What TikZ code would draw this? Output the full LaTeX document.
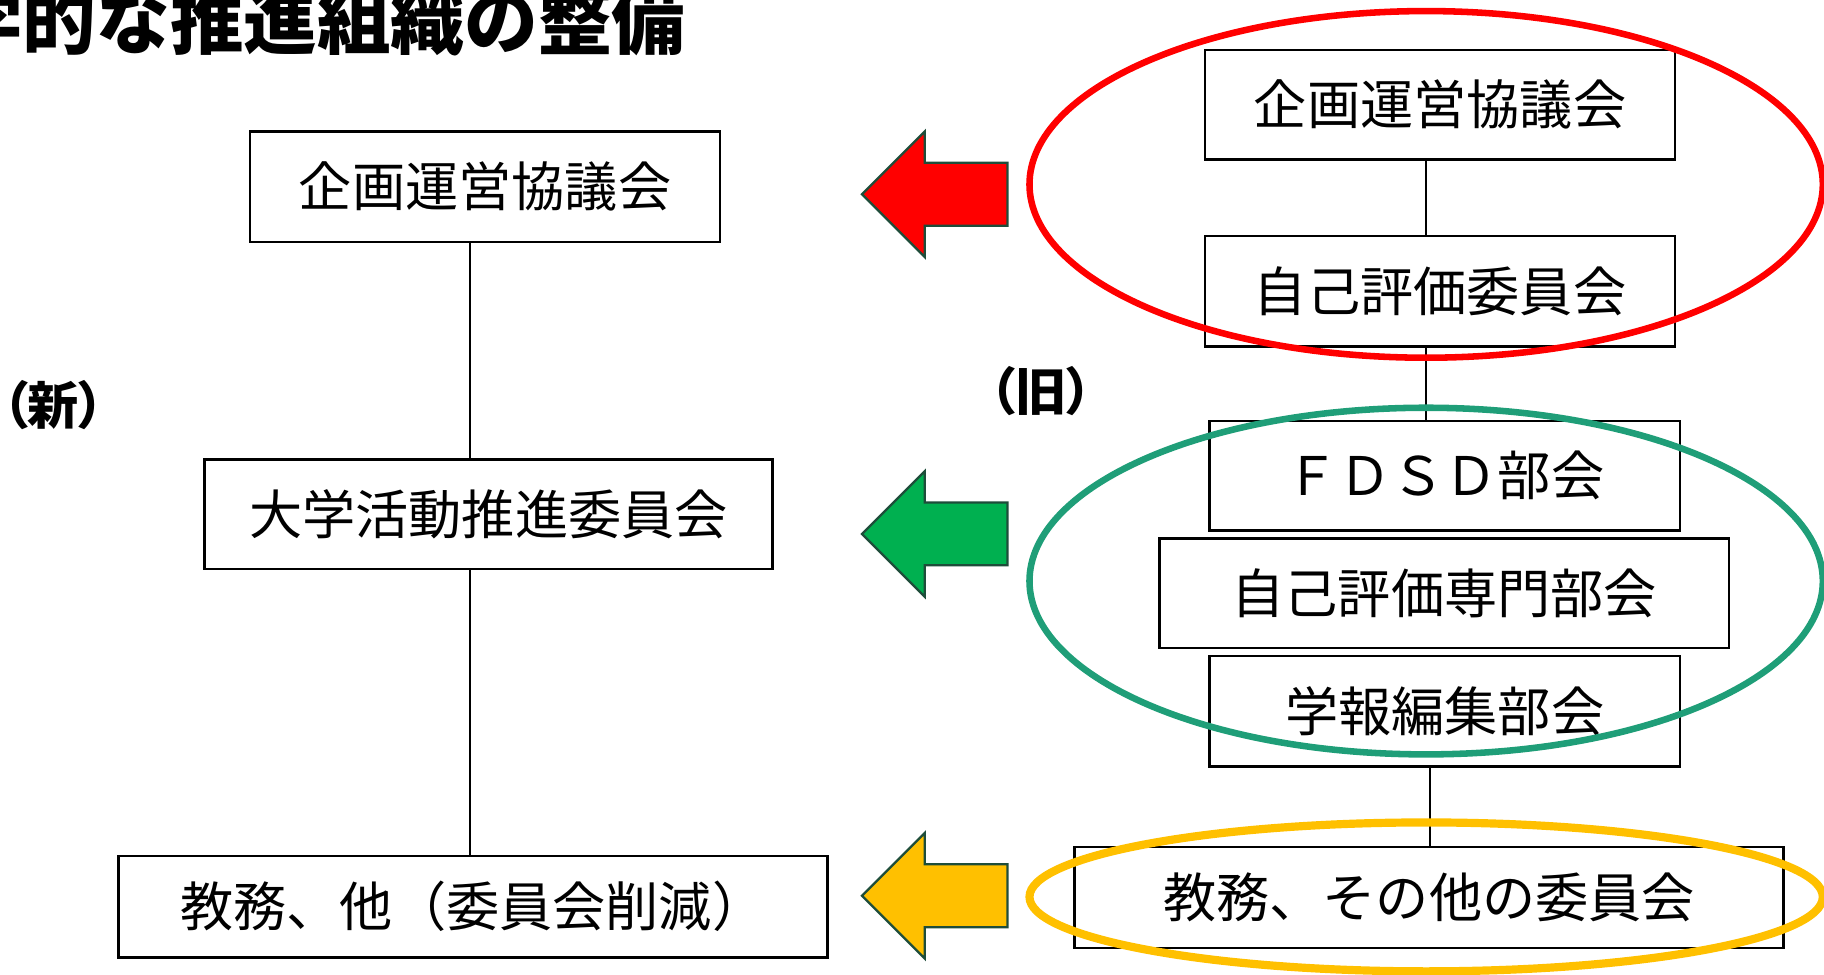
\documentclass[tikz,border=0pt]{standalone}
\usepackage{fontspec}
\usepackage{xcolor}
\usepackage{tikz}
\usetikzlibrary{calc}
\setmainfont{Noto Sans CJK JP}
\newfontfamily\jpfont{Noto Sans CJK JP}
\newfontfamily\jpnarrow[RawFeature=+palt]{Noto Sans CJK JP}
\definecolor{ink}{HTML}{000000}
\definecolor{ringred}{HTML}{FF0000}
\definecolor{ringgreen}{HTML}{1F9E78}
\definecolor{ringyellow}{HTML}{FFC000}
\definecolor{arred}{HTML}{FF0000}
\definecolor{argreen}{HTML}{00B050}
\definecolor{aryellow}{HTML}{FFC000}
\definecolor{edge}{HTML}{1E4D3A}
\tikzset{
  box/.style={draw=ink, line width=0.6pt, inner sep=0pt, font=\jpfont\fontsize{13pt}{15pt}\selectfont},
  link/.style={draw=ink, line width=0.5pt},
  ring/.style={line width=1.6pt},
  pointer/.style={draw=edge, line width=0.55pt, line join=miter},
  lab/.style={font=\jpnarrow\bfseries\fontsize{12.5pt}{14pt}\selectfont},
  heading/.style={font=\jpfont\bfseries\fontsize{18pt}{20pt}\selectfont, inner sep=0pt},
}

\begin{document}
\begin{tikzpicture}[x=0.01cm, y=-0.01cm]
  \useasboundingbox (0,0) rectangle (1568,838);
  \coordinate (spineL) at (404,0);
  \coordinate (spineR) at (1226,0);
  \coordinate (spineS) at (1229,0);

  \node[heading, anchor=base east] (title) at (590,42) {全学的な推進組織の整備};
  \node[lab] (newlab) at (46,348) {（新）};
  \node[lab] (oldlab) at (895,336) {（旧）};

  % new
  \node[box, minimum width=4.04cm, minimum height=0.95cm] (plan) at (417,160.5) {企画運営協議会};
  \node[box, minimum width=4.88cm, minimum height=0.94cm] (act) at (420,442) {大学活動推進委員会};
  \node[box, minimum width=6.09cm, minimum height=0.87cm] (rest) at (406.5,779.5) {教務、他（委員会削減）};
  \draw[link] (plan.south -| spineL) -- (act.north -| spineL);
  \draw[link] (act.south -| spineL) -- (rest.north -| spineL);

  % old
  \node[box, minimum width=4.04cm, minimum height=0.94cm] (oplan) at (1238,90) {企画運営協議会};
  \node[box, minimum width=4.04cm, minimum height=0.95cm] (oeval) at (1238,250.5) {自己評価委員会};
  \node[box, minimum width=4.04cm, minimum height=0.94cm] (ofdsd) at (1242,409) {ＦＤＳＤ部会};
  \node[box, minimum width=4.89cm, minimum height=0.94cm] (ospec) at (1241.5,510) {自己評価専門部会};
  \node[box, minimum width=4.04cm, minimum height=0.95cm] (onews) at (1242,611.5) {学報編集部会};
  \node[box, minimum width=6.09cm, minimum height=0.87cm] (orest) at (1228.5,771.5) {教務、その他の委員会};
  \draw[link] (oplan.south -| spineR) -- (oeval.north -| spineR);
  \draw[link] (oeval.south -| spineR) -- (ofdsd.north -| spineR);
  \draw[link] (onews.south -| spineS) -- (orest.north -| spineS);

  \foreach \yc/\col in {167/arred, 459/argreen, 770/aryellow}
    \draw[pointer, fill=\col] (741,\yc) -- (795,\yc-54) -- (795,\yc-27) -- (866,\yc-27)
      -- (866,\yc+27) -- (795,\yc+27) -- (795,\yc+54) -- cycle;

  \draw[ring, draw=ringred] (1226,158.5) ellipse [x radius=341, y radius=149];
  \draw[ring, draw=ringgreen] (1226,499.5) ellipse [x radius=341, y radius=149];
  \draw[ring, draw=ringyellow, line width=2pt] (1226,771) ellipse [x radius=341, y radius=64];
\end{tikzpicture}
\end{document}
